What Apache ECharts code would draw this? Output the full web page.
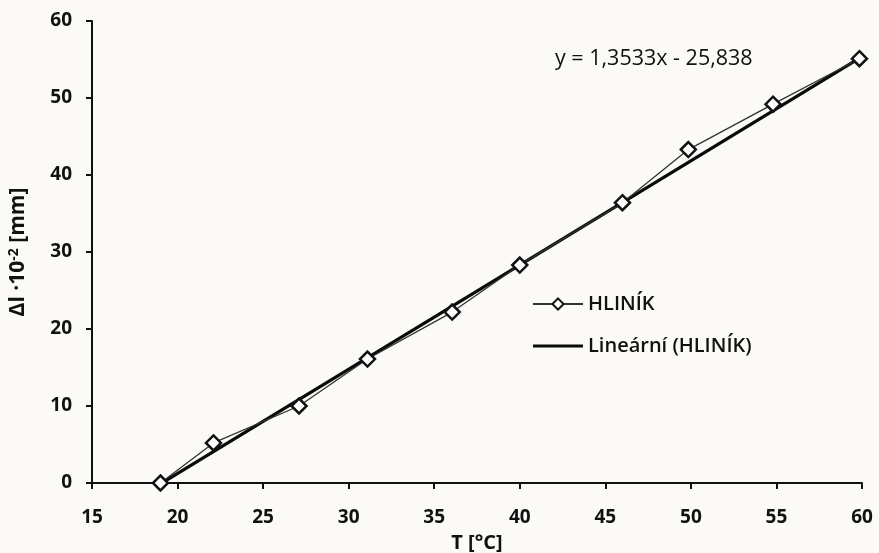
<!DOCTYPE html>
<html><head><meta charset="utf-8">
<script src="https://cdn.jsdelivr.net/npm/echarts@6/dist/echarts.min.js"></script>
<style>html,body{margin:0;padding:0;background:#fcfaf7}#c{width:879px;height:553px}</style>
</head><body><div id="c"></div>
<script>
const tempX = [19, 22.1, 27.1, 31.1, 36.05, 40, 46, 49.85, 54.8, 59.85];
const elongY = [0, 5.2, 10.0, 16.1, 22.2, 28.3, 36.4, 43.3, 49.2, 55.1];
const trendX = [19, 60];
const trendY = [-0.12, 55.36];
const xTicks = [15, 20, 25, 30, 35, 40, 45, 50, 55, 60];
const yTicks = [0, 10, 20, 30, 40, 50, 60];
const seriesName = 'HLINÍK';
const trendName = 'Lineární (HLINÍK)';
const equation = 'y = 1,3533x - 25,838';

const font = '"Open Sans", sans-serif';
const chart = echarts.init(document.getElementById('c'), null, {renderer: 'canvas'});
chart.setOption({
  backgroundColor: '#fcfaf7',
  animation: false,
  grid: {left: 92, right: 17, top: 21, bottom: 70, containLabel: false, outerBoundsMode: 'none'},
  xAxis: {
    type: 'value', min: xTicks[0], max: xTicks[xTicks.length - 1], interval: 5,
    name: 'T [°C]', nameLocation: 'middle', nameGap: 50,
    nameTextStyle: {fontFamily: font, fontWeight: 'bold', fontSize: 20, color: '#111'},
    axisLine: {lineStyle: {color: '#111', width: 2}},
    axisTick: {show: true, length: 6, lineStyle: {color: '#111', width: 2}},
    axisLabel: {fontFamily: font, fontWeight: 'bold', fontSize: 19, color: '#111', margin: 25},
    splitLine: {show: false}
  },
  yAxis: {
    type: 'value', min: yTicks[0], max: yTicks[yTicks.length - 1], interval: 10,
    name: 'Δl ·10{sup|-2} [mm]', nameLocation: 'middle', nameGap: 63, nameRotate: 90,
    nameTextStyle: {
      fontFamily: font, fontWeight: 'bold', fontSize: 21, color: '#111',
      rich: {sup: {fontFamily: font, fontWeight: 'bold', fontSize: 14, color: '#111', verticalAlign: 'top', padding: [0, 0, 8, 0]}}
    },
    axisLine: {show: true, lineStyle: {color: '#111', width: 2}},
    axisTick: {show: true, length: 6, lineStyle: {color: '#111', width: 2}},
    axisLabel: {fontFamily: font, fontWeight: 'bold', fontSize: 19, color: '#111', margin: 20},
    splitLine: {show: false}
  },
  legend: {
    orient: 'vertical', left: 527, top: 289, itemGap: 22, itemWidth: 50, itemHeight: 14,
    textStyle: {fontFamily: font, fontSize: 20, color: '#111', fontWeight: 600},
    data: [seriesName, {name: trendName, icon: 'path://M0 0H50V3H0Z'}]
  },
  graphic: [{
    type: 'text', left: 555, top: 48,
    style: {text: equation, fontFamily: font, fontSize: 21.5, fontWeight: 500, fill: '#111'}
  }],
  series: [
    {
      name: trendName, type: 'line', data: trendX.map((x, i) => [x, trendY[i]]),
      symbol: 'none', lineStyle: {color: '#0a0a0a', width: 3.2}, itemStyle: {color: '#0a0a0a'}, z: 2
    },
    {
      name: seriesName, type: 'line', data: tempX.map((x, i) => [x, elongY[i]]),
      symbol: 'diamond', symbolSize: 15,
      lineStyle: {color: '#333', width: 1.3},
      itemStyle: {color: '#fff', borderColor: '#111', borderWidth: 2.5}, z: 3
    }
  ]
});
</script></body></html>
